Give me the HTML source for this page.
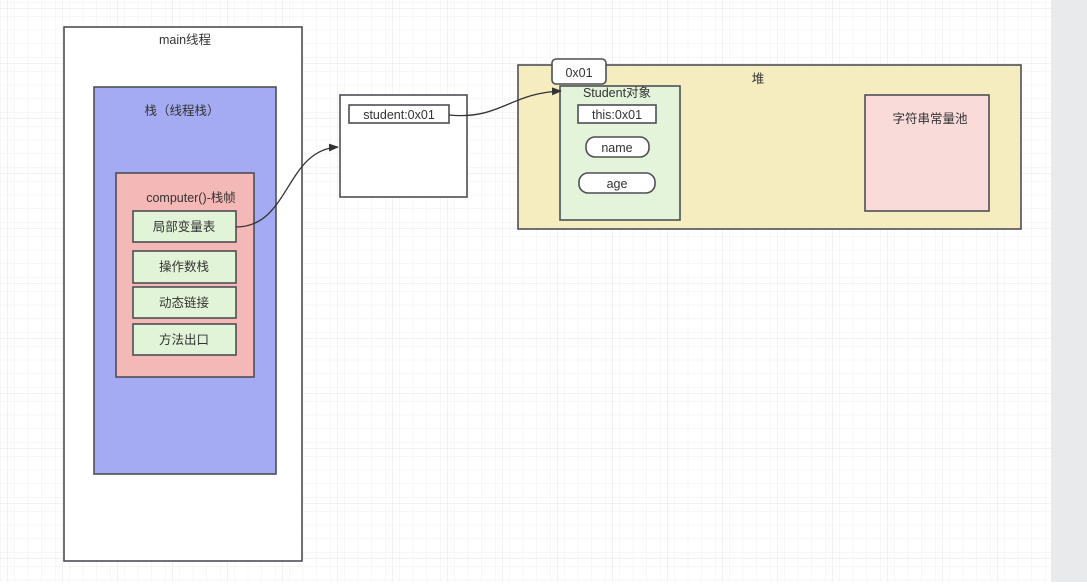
<!DOCTYPE html>
<html><head><meta charset="utf-8"><style>
body{margin:0;width:1087px;height:582px;overflow:hidden;background:#fff;font-family:"Liberation Sans","Noto Sans CJK SC",sans-serif;}
</style></head><body>
<svg width="1087" height="582" xmlns="http://www.w3.org/2000/svg" font-family="Liberation Sans, Noto Sans CJK SC, sans-serif" font-size="12.5" fill="#333">
<defs>
<pattern id="g" width="13.75" height="13.75" patternUnits="userSpaceOnUse" x="7" y="8"><path d="M0 0H13.75M0 0V13.75" stroke="#efefef" stroke-width="1" fill="none"/></pattern>
<pattern id="G" width="55" height="55" patternUnits="userSpaceOnUse" x="7" y="8"><rect width="55" height="55" fill="url(#g)"/><path d="M0 0H55M0 0V55" stroke="#e4e4e4" stroke-width="1" fill="none"/></pattern>
<marker id="a" markerWidth="10" markerHeight="8" refX="9" refY="4" orient="auto" markerUnits="userSpaceOnUse"><path d="M0 0L10 4L0 8z" fill="#333"/></marker>
</defs>
<rect width="1051" height="582" fill="url(#G)"/>
<rect x="1051" y="0" width="36" height="582" fill="#e9eaec"/>
<g stroke="#4d4f55" stroke-width="1.6">
<rect x="64" y="27" width="238" height="534" fill="#fff"/>
<rect x="94" y="87" width="182" height="387" fill="#a4abf2"/>
<rect x="116" y="173" width="138" height="204" fill="#f4b8b6"/>
<rect x="133" y="211" width="103" height="31" fill="#e2f4d8"/>
<rect x="133" y="251" width="103" height="32" fill="#e2f4d8"/>
<rect x="133" y="287" width="103" height="31" fill="#e2f4d8"/>
<rect x="133" y="324" width="103" height="31" fill="#e2f4d8"/>
<rect x="340" y="95" width="127" height="102" fill="#fff"/>
<rect x="349" y="105" width="100" height="18" fill="#fff"/>
<rect x="518" y="65" width="503" height="164" fill="#f5ecbf"/>
<rect x="560" y="86" width="120" height="134" fill="#e3f4da"/>
<rect x="552" y="59" width="54" height="25" rx="4" fill="#fff"/>
<rect x="578" y="105" width="78" height="18" fill="#fff"/>
<rect x="586" y="137" width="63" height="20" rx="9" fill="#fff"/>
<rect x="579" y="173" width="76" height="20" rx="9" fill="#fff"/>
<rect x="865" y="95" width="124" height="116" fill="#f9dbd9"/>
</g>
<g fill="none" stroke="#333" stroke-width="1.3">
<path d="M236 227C290 227 285 150 338 147" marker-end="url(#a)"/>
<path d="M449 115C500 120 510 93 561 91" marker-end="url(#a)"/>
</g>
<g text-anchor="middle">
<text x="185" y="44">main线程</text>
<text x="182" y="115">栈（线程栈）</text>
<text x="191" y="202">computer()-栈帧</text>
<text x="184" y="231">局部变量表</text>
<text x="184" y="271">操作数栈</text>
<text x="184" y="307">动态链接</text>
<text x="184" y="344">方法出口</text>
<text x="399" y="119">student:0x01</text>
<text x="758" y="83">堆</text>
<text x="579" y="77">0x01</text>
<text x="617" y="97">Student对象</text>
<text x="617" y="119">this:0x01</text>
<text x="617" y="152">name</text>
<text x="617" y="188">age</text>
<text x="930" y="123">字符串常量池</text>
</g>
</svg>
</body></html>
